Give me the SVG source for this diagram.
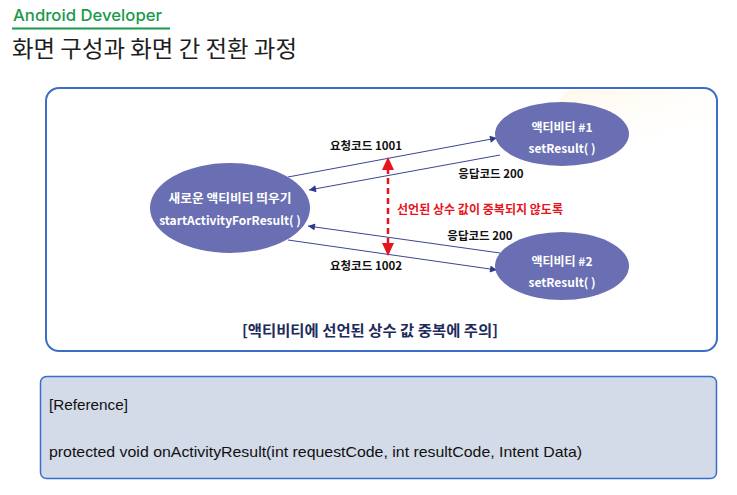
<svg xmlns="http://www.w3.org/2000/svg" width="737" height="495" viewBox="0 0 737 495">
<defs>
<marker id="ah" viewBox="0 0 10 10" refX="10" refY="5" markerWidth="9" markerHeight="7" markerUnits="userSpaceOnUse" orient="auto"><path d="M0,0 L10,5 L0,10 z" fill="#2e3a8c"/></marker>
<linearGradient id="glow" x1="0" y1="0" x2="1" y2="1"><stop offset="0" stop-color="#fff4dc"/><stop offset="1" stop-color="#ffffff" stop-opacity="0"/></linearGradient>
</defs>
<style>
.k{font-family:"Noto Sans CJK KR","Noto Sans",sans-serif}
.node{fill:#6a6fb4}
.nt{font-family:"Noto Sans CJK KR","Liberation Sans",sans-serif;font-size:12px;font-weight:bold;fill:#ffffff;text-anchor:middle}
.lbl{font-family:"Noto Sans CJK KR","Liberation Sans",sans-serif;font-size:11.5px;font-weight:bold;fill:#111111;text-anchor:middle}
.ln{stroke:#3c4496;stroke-width:1;fill:none;marker-end:url(#ah)}
.ref{font-family:"Liberation Sans Narrow","Liberation Sans",sans-serif;font-size:15px;fill:#111111}
</style>
<rect width="737" height="495" fill="#ffffff"/>
<g id="header">
<text x="13" y="21" font-family="Inter,Liberation Sans,Arial,sans-serif" font-size="16.5" font-weight="500" fill="#1a9a4a" textLength="149" lengthAdjust="spacingAndGlyphs">Android Developer</text>
<line x1="12" y1="28.5" x2="170" y2="28.5" stroke="#1a9a4a" stroke-width="2"/>
<text x="12" y="57" class="k" font-size="23" fill="#1e1e1e" textLength="285" lengthAdjust="spacingAndGlyphs">화면 구성과 화면 간 전환 과정</text>
</g>
<g id="panel">
<rect x="46" y="88" width="671" height="263" rx="13" fill="#ffffff" stroke="#3a6ec8" stroke-width="2"/>
<rect x="560" y="90" width="155" height="50" rx="12" fill="url(#glow)" opacity="0.6"/>
<text x="370" y="336" class="k" font-size="15" font-weight="bold" fill="#1f2b5c" text-anchor="middle" textLength="256" lengthAdjust="spacingAndGlyphs">[액티비티에 선언된 상수 값 중복에 주의]</text>
</g>
<g id="connectors">
<line class="ln" x1="288" y1="177" x2="497" y2="138"/>
<line class="ln" x1="500" y1="155" x2="309" y2="190"/>
<line class="ln" x1="500" y1="253" x2="308" y2="226"/>
<line class="ln" x1="288" y1="240" x2="497" y2="270"/>
<line x1="388" y1="168" x2="388" y2="246" stroke="#e8141b" stroke-width="2.5" stroke-dasharray="6,4"/>
<path d="M388,157 L394,170 L382,170 z" fill="#e8141b"/>
<path d="M388,256 L394,243 L382,243 z" fill="#e8141b"/>
<text x="366" y="150" class="lbl">요청코드 1001</text>
<text x="491" y="178" class="lbl">응답코드 200</text>
<text x="480" y="240" class="lbl">응답코드 200</text>
<text x="366" y="270" class="lbl">요청코드 1002</text>
<text x="397" y="214" font-family="Noto Sans CJK KR,sans-serif" font-size="12" font-weight="bold" fill="#e8141b" textLength="166" lengthAdjust="spacingAndGlyphs">선언된 상수 값이 중복되지 않도록</text>
</g>
<g id="node-main">
<ellipse class="node" cx="230" cy="208" rx="80" ry="45"/>
<text x="230" y="203" class="nt" textLength="123" lengthAdjust="spacingAndGlyphs">새로운 액티비티 띄우기</text>
<text x="230" y="225" class="nt">startActivityForResult( )</text>
</g>
<g id="node-activity1">
<ellipse class="node" cx="562" cy="134" rx="67" ry="32"/>
<text x="562" y="132" class="nt">액티비티 #1</text>
<text x="562" y="153" class="nt">setResult( )</text>
</g>
<g id="node-activity2">
<ellipse class="node" cx="562" cy="266" rx="67" ry="34"/>
<text x="562" y="266" class="nt">액티비티 #2</text>
<text x="562" y="287" class="nt">setResult( )</text>
</g>
<g id="reference">
<rect x="40.5" y="376.5" width="676" height="102" rx="6" fill="#d3dae8" stroke="#3a6ec8" stroke-width="1.5"/>
<text x="49" y="410" class="ref" textLength="79" lengthAdjust="spacingAndGlyphs">[Reference]</text>
<text x="49" y="457" class="ref" textLength="533" lengthAdjust="spacingAndGlyphs">protected void onActivityResult(int requestCode, int resultCode, Intent Data)</text>
</g>
</svg>
